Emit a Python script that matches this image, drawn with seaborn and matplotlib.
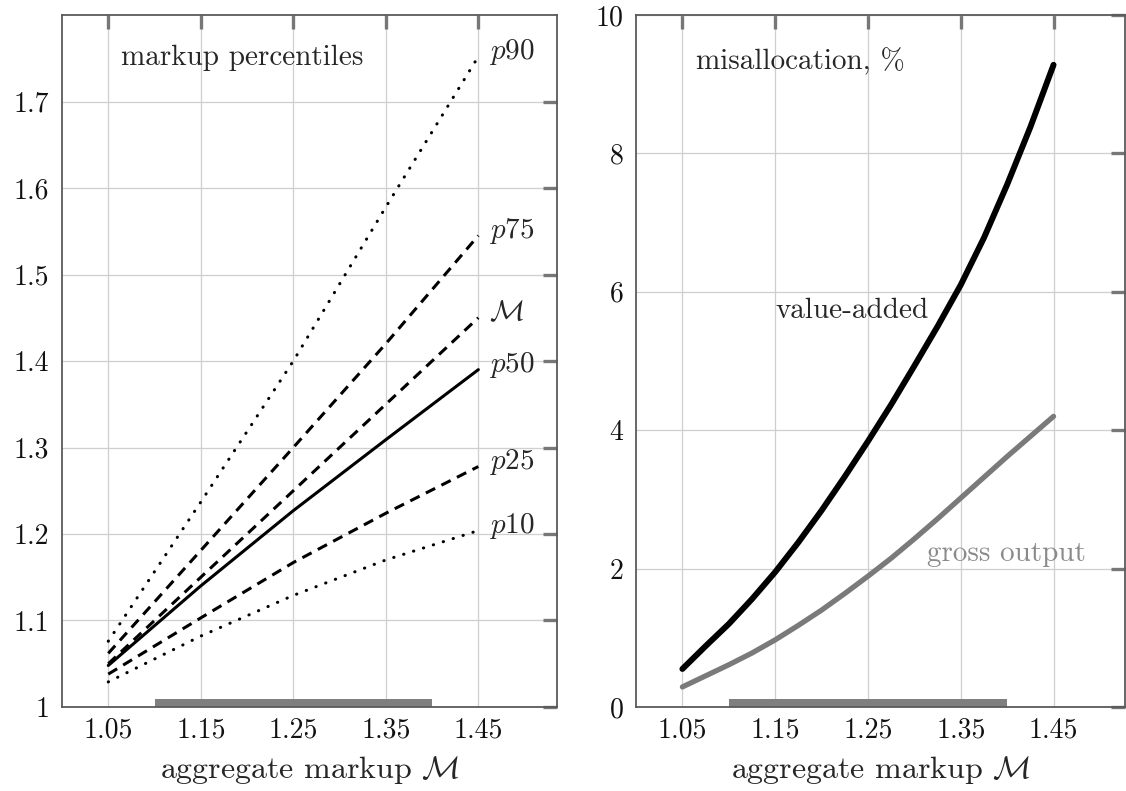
import matplotlib
matplotlib.use('Agg')
import matplotlib.pyplot as plt
import seaborn as sns

# markup percentiles as a function of the aggregate markup
agg_markup = [1.05, 1.15, 1.25, 1.35, 1.45]
p90 = [1.076, 1.237, 1.400, 1.578, 1.752]
p75 = [1.062, 1.181, 1.300, 1.420, 1.545]
p_agg = [1.05, 1.15, 1.25, 1.35, 1.45]
p50 = [1.048, 1.140, 1.227, 1.309, 1.390]
p25 = [1.038, 1.103, 1.167, 1.224, 1.278]
p10 = [1.029, 1.082, 1.129, 1.170, 1.204]

# misallocation, %
mis_x = [1.05, 1.075, 1.10, 1.125, 1.15, 1.175, 1.20, 1.225, 1.25,
         1.275, 1.30, 1.325, 1.35, 1.375, 1.40, 1.425, 1.45]
value_added = [0.55, 0.88, 1.20, 1.56, 1.95, 2.38, 2.84, 3.33, 3.84,
               4.37, 4.93, 5.50, 6.10, 6.78, 7.55, 8.38, 9.28]
gross_output = [0.29, 0.45, 0.61, 0.78, 0.97, 1.18, 1.40, 1.64, 1.89,
                2.15, 2.43, 2.72, 3.02, 3.32, 3.62, 3.91, 4.20]

# shaded range on the x axis
data_range = [1.10, 1.40]

x_ticks = [1.05, 1.15, 1.25, 1.35, 1.45]
x_ticklabels = ['1.05', '1.15', '1.25', '1.35', '1.45']
left_yticks = [1.0, 1.1, 1.2, 1.3, 1.4, 1.5, 1.6, 1.7]
left_yticklabels = ['1', '1.1', '1.2', '1.3', '1.4', '1.5', '1.6', '1.7']
right_yticks = [0, 2, 4, 6, 8, 10]
right_yticklabels = ['0', '2', '4', '6', '8', '10']

sns.set_style('white')
plt.rcParams['font.family'] = ['cmr10']
plt.rcParams['mathtext.fontset'] = 'cm'
plt.rcParams['axes.unicode_minus'] = False
FS = 21
TICK_FS = 20

fig = plt.figure(figsize=(11.26, 7.91), dpi=100)
W, H = 1126, 791
ax1 = fig.add_axes([62 / W, 84 / H, 495 / W, 692 / H])
ax2 = fig.add_axes([636 / W, 84 / H, 489 / W, 692 / H])

dotted = (0, (0.1, 3.3))
dashed = (0, (3.4, 2.3))

# left panel
lw = 2.2
for ys, ls, cap in [(p90, dotted, 'round'), (p75, dashed, 'butt'),
                    (p_agg, dashed, 'butt'), (p50, '-', 'butt'),
                    (p25, dashed, 'butt'), (p10, dotted, 'round')]:
    sns.lineplot(x=agg_markup, y=ys, ax=ax1, color='black', lw=lw,
                 linestyle=ls, dash_capstyle=cap, zorder=3)

labels = [('$p$90', p90), ('$p$75', p75), (r'$\mathcal{M}$', p_agg),
          ('$p$50', p50), ('$p$25', p25), ('$p$10', p10)]
for txt, ys in labels:
    ax1.text(1.462, ys[-1] + 0.005, txt, fontsize=FS, va='center', ha='left')
ax1.text(1.064, 1.75, 'markup percentiles', fontsize=FS, va='center', ha='left')

# right panel
sns.lineplot(x=mis_x, y=value_added, ax=ax2, color='black', lw=4.3, zorder=3)
sns.lineplot(x=mis_x, y=gross_output, ax=ax2, color='#7a7a7a', lw=3.8, zorder=3)
ax2.text(1.065, 9.33, 'misallocation, %', fontsize=FS, va='center', ha='left')
ax2.text(1.15, 5.73, 'value-added', fontsize=FS, va='center', ha='left')
ax2.text(1.314, 2.22, 'gross output', fontsize=FS, va='center', ha='left',
         color='#8a8a8a')

for ax, yt, ytl, ylim, xlim in [
        (ax1, left_yticks, left_yticklabels, (1.0, 1.8), (1.0, 1.535)),
        (ax2, right_yticks, right_yticklabels, (0, 10), (1.0, 1.527))]:
    ax.set_xlim(*xlim)
    ax.set_ylim(*ylim)
    ax.set_xticks(x_ticks)
    ax.set_xticklabels(x_ticklabels)
    ax.set_yticks(yt)
    ax.set_yticklabels(ytl)
    ax.grid(True, color='#cfcfcf', lw=0.9)
    ax.set_axisbelow(True)
    ax.tick_params(direction='in', length=10, width=2.4, color='#777777',
                   labelsize=TICK_FS, top=True, right=True, labelcolor='#111111')
    ax.tick_params(axis='y', pad=9)
    ax.tick_params(axis='x', pad=7)
    for sp in ax.spines.values():
        sp.set_color('#5a5a5a')
        sp.set_linewidth(1.3)
        sp.set_visible(True)
    ax.axvspan(data_range[0], data_range[1], ymin=0, ymax=8 / 692,
               color='#7f7f7f', lw=0, zorder=2)
    ax.set_xlabel(r'aggregate markup $\mathcal{M}$', fontsize=23, labelpad=8)
    ax.set_ylabel('')

fig.savefig('out.png', dpi=100)
